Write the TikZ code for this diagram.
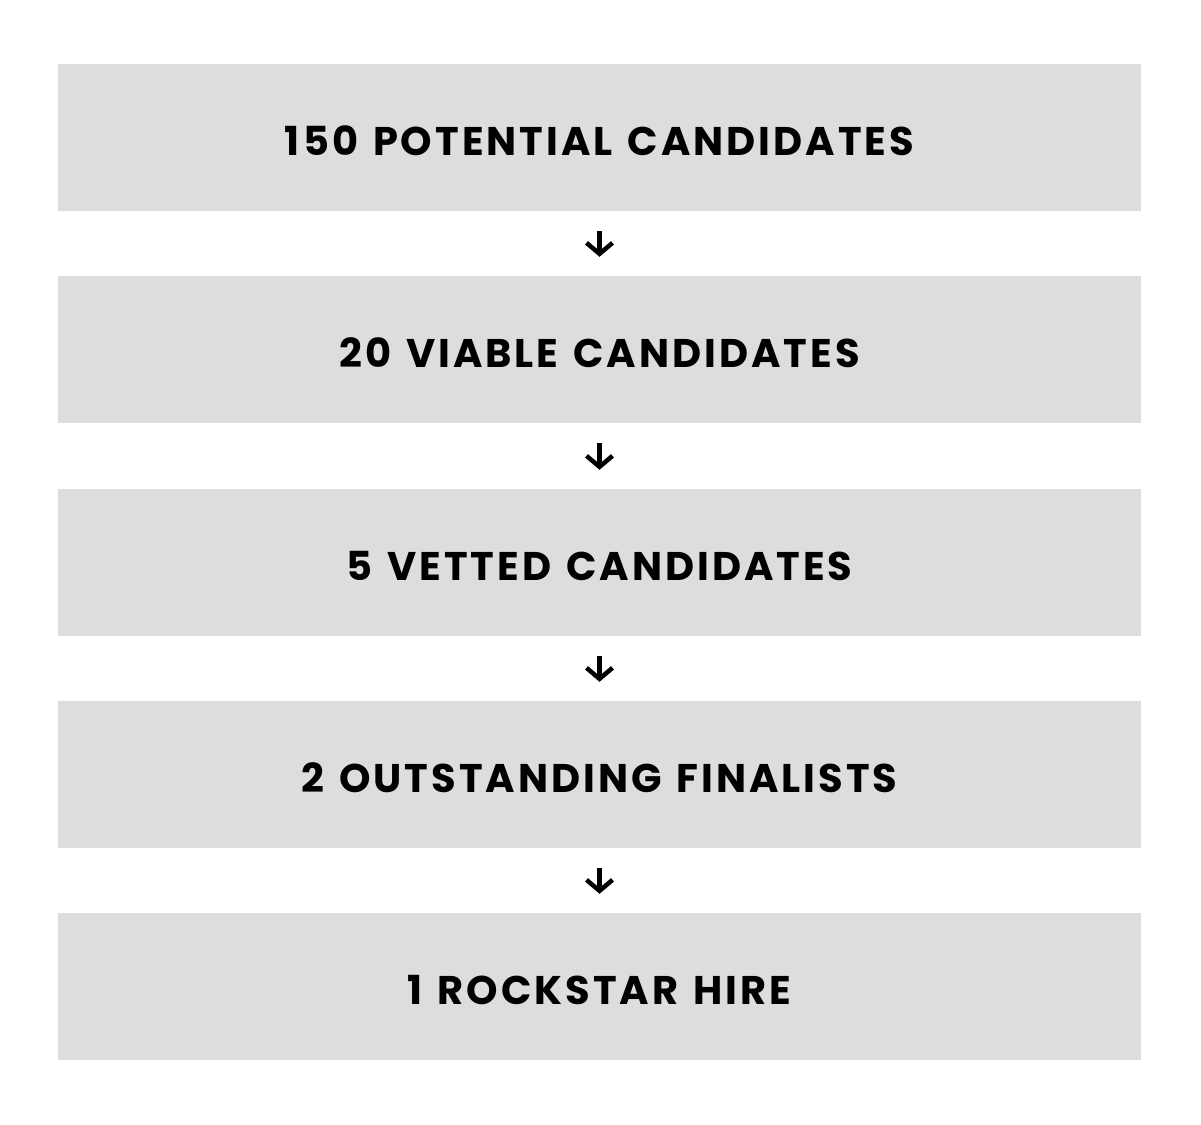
\documentclass[tikz,border=0pt]{standalone}
\usepackage{fontspec}
\usetikzlibrary{arrows.meta}
\setmainfont{Poppins}[LetterSpace=7.5,WordSpace=1.3]
\definecolor{boxgray}{HTML}{DCDDDF}
\begin{document}
\begin{tikzpicture}[x=1pt,y=-1pt,
  stage/.style={fill=boxgray, draw=none, minimum width=1083pt, minimum height=147pt, inner sep=0pt,
    text depth=0pt, text height=36pt,
    font=\fontsize{40}{48}\selectfont\bfseries, text=black},
  flow/.style={line width=4.5pt, -{Straight Barb[length=11pt,width=26pt,line width=4.5pt]}, shorten <=20pt, shorten >=19pt}]
\useasboundingbox (0,0) rectangle (1201,1124);
\node[stage] (a) at (599.5,137.5) {150 POTENTIAL CANDIDATES};
\node[stage] (b) at (599.5,349.5) {20 VIABLE CANDIDATES};
\node[stage] (c) at (599.5,562.5) {5 VETTED CANDIDATES};
\node[stage] (d) at (599.5,774.5) {2 OUTSTANDING FINALISTS};
\node[stage] (e) at (599.5,986.5) {1 ROCKSTAR HIRE};
\foreach \u/\v in {a/b,b/c,c/d,d/e}
  \draw[flow] (\u.south) -- (\v.north);
\end{tikzpicture}
\end{document}
